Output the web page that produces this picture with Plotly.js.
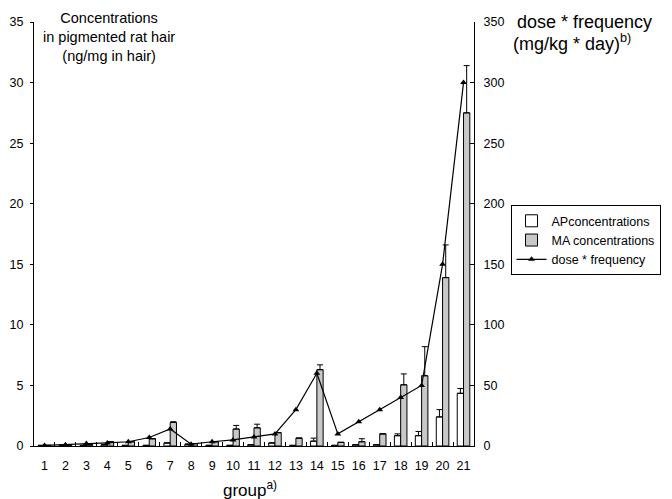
<!DOCTYPE html>
<html>
<head>
<meta charset="utf-8">
<script src="https://cdn.plot.ly/plotly-3.0.1.min.js"></script>
<style>html,body{margin:0;padding:0;background:#fff}#chart{width:672px;height:499px}</style>
</head>
<body>
<div id="chart"></div>
<script>
const groups = ['1','2','3','4','5','6','7','8','9','10','11','12','13','14','15','16','17','18','19','20','21'];
const apConc = [0.05,0.05,0.05,0.1,0.05,0.05,0.25,0.15,0.05,0.05,0.1,0.25,0.05,0.4,0.05,0.1,0.1,0.85,0.85,2.4,4.35];
const apErr  = [0,0,0,0,0,0,0,0,0,0,0,0,0,0.25,0,0,0,0.15,0.35,0.6,0.4];
const maConc = [0.05,0.05,0.1,0.35,0.35,0.6,1.95,0.2,0.35,1.4,1.5,1.1,0.65,6.3,0.3,0.35,1.0,5.05,5.8,13.9,27.5];
const maErr  = [0,0,0,0,0,0,0.05,0,0,0.3,0.3,0,0,0.4,0,0.25,0,0.9,2.4,2.7,3.9];
const doseFreq = [0.5,1,2,2.5,3.5,7,14,1.5,3.5,5,7.5,10,30,60,10,20,30,40,50,150,300];
const zeros = groups.map(() => 0);

const FONT = 'Liberation Sans, Arial, sans-serif';
const traces = [
  {type:'bar', name:'APconcentrations', x:groups, y:apConc,
   marker:{color:'#ffffff', line:{color:'#000', width:1}},
   error_y:{type:'data', symmetric:false, array:apErr, arrayminus:zeros, color:'#000', thickness:1, width:3}},
  {type:'bar', name:'MA concentrations', x:groups, y:maConc,
   marker:{color:'#c8c8c8', line:{color:'#000', width:1}},
   error_y:{type:'data', symmetric:false, array:maErr, arrayminus:zeros, color:'#000', thickness:1, width:3}},
  {type:'scatter', mode:'lines+markers', name:'dose * frequency', x:groups, y:doseFreq, yaxis:'y2',
   line:{color:'#000', width:1.2}, marker:{symbol:'triangle-up', size:6, color:'#000'}}
];

const layout = {
  width:672, height:499,
  margin:{l:34, r:184, t:22, b:53},
  paper_bgcolor:'#fff', plot_bgcolor:'#fff',
  font:{family:FONT, color:'#000', size:12},
  barmode:'group', bargap:0.4, bargroupgap:0,
  showlegend:true,
  legend:{x:1.083, y:0.568, xanchor:'left', yanchor:'top', bordercolor:'#000', borderwidth:1,
          bgcolor:'#fff', font:{family:FONT, size:12.5}, tracegroupgap:0},
  xaxis:{type:'category', range:[-0.5,20.5], showline:true, linecolor:'#000', linewidth:1,
         ticks:'inside', tickson:'boundaries', ticklen:4, tickcolor:'#000', tickangle:0,
         ticklabelstandoff:8,
         showgrid:false, zeroline:false, tickfont:{size:12.5}},
  yaxis:{range:[0,35], dtick:5, showline:true, linecolor:'#000', linewidth:1, ticks:'outside',
         ticklen:3, tickcolor:'#000', showgrid:false, zeroline:false, tickfont:{size:12.5},
         ticklabelstandoff:4},
  yaxis2:{range:[0,350], dtick:50, overlaying:'y', side:'right', showline:true, linecolor:'#000',
          linewidth:1, ticks:'inside', ticklen:4, tickcolor:'#000', showgrid:false, zeroline:false,
          tickfont:{size:12.5}, ticklabelstandoff:6},
  annotations:[
    {xref:'paper', yref:'paper', x:(111-34)/454, y:(446-37)/424, xanchor:'center', yanchor:'middle',
     showarrow:false, align:'center', text:'Concentrations<br>in pigmented rat hair<br>(ng/mg in hair)',
     font:{size:14.5}},
    {xref:'paper', yref:'paper', x:(530-34)/454, y:(446-22)/424, xanchor:'left', yanchor:'middle',
     showarrow:false, text:'dose * frequency', font:{size:18}},
    {xref:'paper', yref:'paper', x:(526-34)/454, y:(446-42)/424, xanchor:'left', yanchor:'middle',
     showarrow:false, text:'(mg/kg * day)<sup>b)</sup>', font:{size:18}},
    {xref:'paper', yref:'paper', x:(257-34)/454, y:(446-489)/424, xanchor:'center', yanchor:'middle',
     showarrow:false, text:'group<sup>a)</sup>', font:{size:17}}
  ]
};

Plotly.newPlot('chart', traces, layout, {displayModeBar:false, staticPlot:true});
</script>
</body>
</html>
